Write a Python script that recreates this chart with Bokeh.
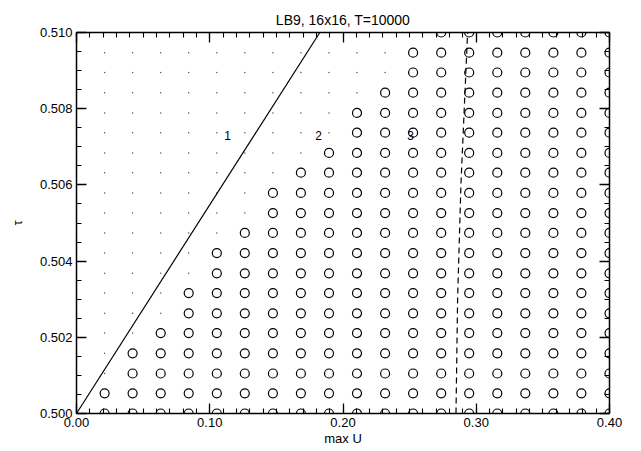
from bokeh.plotting import figure
from bokeh.models import (Range1d, LinearAxis, FixedTicker, NumeralTickFormatter,
                          ColumnDataSource, Label)
from bokeh.embed import file_html
from bokeh.resources import INLINE

# grid of max U values (columns) and tau values (rows)
u_vals = [0.0000, 0.0211, 0.0421, 0.0632, 0.0842, 0.1053, 0.1263, 0.1474, 0.1684, 0.1895,
          0.2105, 0.2316, 0.2526, 0.2737, 0.2947, 0.3158, 0.3368, 0.3579, 0.3789, 0.4000]
tau_vals = [0.50000, 0.50053, 0.50105, 0.50158, 0.50211, 0.50263, 0.50316, 0.50368,
            0.50421, 0.50474, 0.50526, 0.50579, 0.50632, 0.50684, 0.50737, 0.50789,
            0.50842, 0.50895, 0.50947, 0.51000]
# highest row index marked with a circle in each column (-1 = none)
top_row = [-1, 1, 3, 4, 6, 8, 9, 11, 12, 13, 15, 16, 18, 19, 19, 19, 19, 19, 19, 19]

# solid boundary line
solid_u = [0.0, 0.1826]
solid_tau = [0.500, 0.510]
# dashed boundary line
dash_u = [0.2848, 0.2860, 0.2885, 0.2935]
dash_tau = [0.500, 0.503, 0.506, 0.510]

# region labels
region_text = ["1", "2", "3"]
region_u = [0.1133, 0.1816, 0.2507]
region_tau = [0.5073, 0.5073, 0.5073]

x_major = [0.0, 0.1, 0.2, 0.3, 0.4]
x_minor = [i / 100 for i in range(0, 41)]
y_major = [0.500, 0.502, 0.504, 0.506, 0.508, 0.510]
y_minor = [0.5 + i * 0.0005 for i in range(0, 21)]

cu, ct, du, dt = [], [], [], []
for i, u in enumerate(u_vals):
    for j, t in enumerate(tau_vals):
        if j <= top_row[i]:
            cu.append(u); ct.append(t)
        else:
            du.append(u); dt.append(t)

FONT = "Liberation Sans"

p = figure(width=641, height=451, output_backend="svg", toolbar_location=None,
           x_range=Range1d(0.0, 0.4), y_range=Range1d(0.500, 0.510),
           x_axis_type=None, y_axis_type=None,
           min_border_left=76, min_border_right=32, min_border_top=32, min_border_bottom=38)
p.outline_line_color = None
p.xgrid.visible = False
p.ygrid.visible = False
p.background_fill_color = "white"
p.border_fill_color = "white"

def style(ax, labels=True):
    ax.axis_line_color = "black"
    ax.axis_line_width = 1.5
    ax.major_tick_in = 10
    ax.major_tick_out = 0
    ax.minor_tick_in = 5
    ax.minor_tick_out = 0
    ax.major_tick_line_color = "black"
    ax.minor_tick_line_color = "black"
    ax.major_tick_line_width = 1.3
    ax.minor_tick_line_width = 1.1
    ax.major_label_text_font = FONT
    ax.major_label_text_font_size = "13px"
    ax.major_label_text_color = "black" if labels else None
    ax.axis_label_text_font = FONT
    ax.axis_label_text_font_style = "normal"
    ax.axis_label_text_font_size = "13px"
    ax.axis_label_text_color = "black"

xb = LinearAxis(ticker=FixedTicker(ticks=x_major, minor_ticks=x_minor),
                formatter=NumeralTickFormatter(format="0.00"), axis_label="max U")
style(xb)
xb.major_label_standoff = 4
xb.axis_label_standoff = 1
p.add_layout(xb, "below")

xt = LinearAxis(ticker=FixedTicker(ticks=x_major, minor_ticks=x_minor))
style(xt, labels=False)
xt.major_label_text_font_size = "0px"
p.add_layout(xt, "above")

yl = LinearAxis(ticker=FixedTicker(ticks=y_major, minor_ticks=y_minor),
                formatter=NumeralTickFormatter(format="0.000"), axis_label="τ")
style(yl)
yl.major_label_standoff = 4
yl.axis_label_standoff = 12
p.add_layout(yl, "left")

yr = LinearAxis(ticker=FixedTicker(ticks=y_major, minor_ticks=y_minor))
style(yr, labels=False)
yr.major_label_text_font_size = "0px"
p.add_layout(yr, "right")

p.title.text = "LB9, 16x16, T=10000"
p.title.align = "center"
p.title.text_font = FONT
p.title.text_font_style = "normal"
p.title.text_font_size = "14px"
p.title.text_color = "black"

dots = ColumnDataSource(dict(u=du, tau=dt))
circ = ColumnDataSource(dict(u=cu, tau=ct))
p.scatter("u", "tau", source=dots, marker="circle", size=1.5,
          fill_color="#555555", line_color=None)
p.scatter("u", "tau", source=circ, marker="circle", size=9,
          fill_color=None, line_color="black", line_width=1.2)

p.line(solid_u, solid_tau, line_color="black", line_width=1.2)
p.line(dash_u, dash_tau, line_color="black", line_width=1.2, line_dash="6 4")

for s, u, t in zip(region_text, region_u, region_tau):
    p.add_layout(Label(x=u, y=t, text=s, text_font=FONT, text_font_size="12px",
                       text_align="center", text_baseline="middle", text_color="black"))

open("out.html", "w").write(file_html(p, INLINE))
